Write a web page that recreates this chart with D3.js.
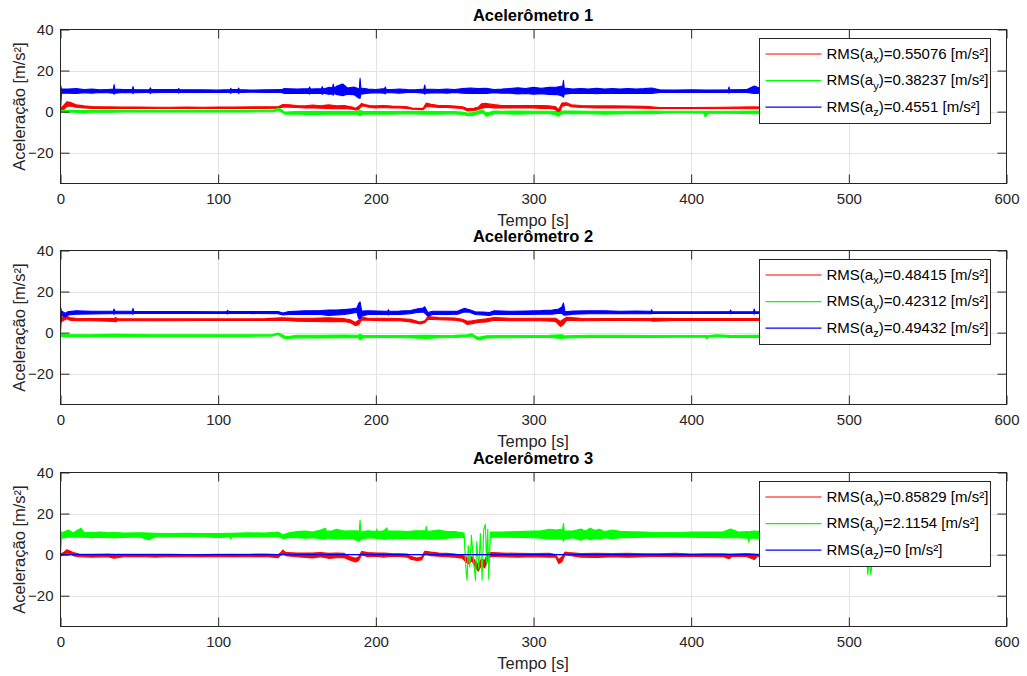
<!DOCTYPE html>
<html>
<head>
<meta charset="utf-8">
<script src="https://cdn.jsdelivr.net/npm/d3@7"></script>
<style>
  body { margin: 0; background: #fff; }
</style>
</head>
<body>
<div id="chart"></div>
<script>
// ---- axis ticks / labels ----
const tempoTicks = [0, 100, 200, 300, 400, 500, 600];
const acelTicks = [-20, 0, 20, 40];
const titulos = ["Acelerômetro 1", "Acelerômetro 2", "Acelerômetro 3"];
const eixos = ["x", "y", "z"];
const rmsValores = [
    ["0.55076", "0.38237", "0.4551"],
    ["0.48415", "0.42312", "0.49432"],
    ["0.85829", "2.1154", "0"]
];

// ---- series: [tempo (s), min, max] ----
const acel1X = [[0,0.8,1.5],[2,1,3],[4,2.5,4.8],[6,2.8,4.5],[8,2.5,4],[10,2,3.3],[15,1.8,2.8],[20,1.6,2.5],[30,1.5,2.3],[40,1.5,2.2],[50,1.6,2.2],[60,1.5,2.1],[70,1.5,2.1],[80,1.6,2.2],[90,1.5,2.1],[100,1.6,2.2],[110,1.5,2.2],[120,1.6,2.3],[130,1.6,2.4],[138,1.7,2.4],[141,2.2,3.5],[145,2.2,3.3],[150,2,3],[155,1.8,2.8],[160,1.8,3.2],[165,1.7,2.9],[170,1.6,3.3],[175,1.4,2.9],[180,1.5,3],[185,1.2,2.2],[187,0.8,1.6],[189,1,2.5],[191,2.8,4],[193,2.6,3.5],[196,2,3],[200,1.8,2.8],[205,2,3],[210,1.8,2.7],[215,1.8,2.6],[220,1.6,2.4],[223,1.2,1.8],[230,1,1.6],[232,2.5,4.2],[235,2.4,3.6],[240,2,3],[245,2,3],[250,1.8,2.7],[255,1.5,2.4],[258,0.3,1.5],[262,0.5,1.6],[265,1,2.2],[267,1.5,3.8],[270,2.2,4],[275,1.8,3.4],[280,1.8,3],[290,1.8,3],[300,1.8,3],[305,1.6,3],[310,1.6,2.8],[314,1,2.4],[316,-1.8,1],[318,2.5,4.2],[321,3.2,4.3],[324,2.4,3.3],[330,2,3],[340,1.8,2.8],[350,1.8,2.8],[360,1.8,2.7],[370,1.7,2.6],[375,1.5,2.3],[380,1.5,2],[400,1.5,2],[420,1.5,2.1],[440,1.4,2.3],[445,1.4,2.2],[470,1.5,2.1],[500,1.5,2.1],[515,1.5,2.1]];
const acel1Y = [[0,-0.2,0.6],[10,-0.3,0.6],[15,-0.6,0.5],[20,-0.2,0.5],[30,-0.3,0.6],[40,-0.2,0.5],[50,-0.1,0.5],[60,-0.2,0.5],[80,-0.1,0.5],[100,-0.1,0.5],[120,-0.1,0.5],[135,0,0.6],[138,0.5,1.6],[140,0,1.2],[142,-1.2,-0.2],[150,-1.2,0],[160,-1.4,0],[170,-1.3,0.1],[180,-1.3,0],[188,-1.2,0],[190,-2,0.5],[192,-1.2,0],[200,-1.1,0],[210,-1.2,0],[220,-1,0],[230,-1.2,0.2],[240,-1.2,0],[250,-1,0],[256,-1.5,-0.3],[258,-2,-0.8],[262,-1.8,-0.5],[265,-1,0.3],[268,-0.6,0.6],[270,-2.2,-0.6],[272,-1.8,-0.3],[275,-1,0.3],[280,-1,0.2],[290,-1.2,0.3],[300,-1,0.2],[310,-1,0.2],[314,-1.5,0],[316,-2.3,-0.5],[318,-1,0.3],[325,-1,0.3],[335,-1,0.2],[345,-1.2,0.2],[360,-1,0.2],[375,-1,0.3],[385,-0.7,0.2],[400,-0.7,0.2],[408,-0.8,0.2],[409,-2.6,0],[411,-0.8,0.2],[425,-0.8,0.2],[440,-1,0.3],[460,-0.7,0.2],[490,-0.7,0.2],[515,-0.7,0.2]];
const acel1Z = [[0,0.5,13],[0.6,9,11],[5,9,11],[10,8.8,11.2],[15,9.2,10.8],[20,9,11],[25,9.4,10.6],[30,9.2,10.8],[33.5,9,11],[34,8.5,13.2],[34.5,9,11],[40,9.3,10.7],[45.5,9.2,10.8],[46,8.8,12.2],[46.5,9.2,10.8],[55,9.4,10.6],[56.5,9.2,10.8],[57,8.8,11.6],[57.5,9.2,10.8],[65,9.3,10.7],[74.5,9.3,10.7],[75,9,11.3],[75.5,9.3,10.7],[90,9.4,10.6],[100,9.5,10.5],[107.5,9.3,10.7],[108,8.9,11.4],[108.5,9.3,10.7],[112.5,9.3,10.7],[113,8.8,11.5],[113.5,9.3,10.7],[120,9.5,10.5],[130,9.4,10.6],[140,9.3,10.7],[142,8.8,11.2],[150,9,11],[157.5,8.8,11.2],[158,8.5,12],[158.6,9,11],[165.5,8.8,11.2],[166,8.4,12.2],[166.6,9,11],[170,8.5,11.8],[172.5,8.6,11.6],[173,8,13.4],[173.6,8.8,11.5],[175,8.4,12.3],[179,7.8,13.5],[182,8.5,11.5],[186,8.3,12],[189.5,6.5,11],[190,6.5,16.2],[190.5,8.5,11.5],[195,9,11],[200,9.2,10.8],[205.5,9,11.2],[206,8.6,12],[206.6,9.2,10.8],[210,9.2,10.8],[215,9,11],[220,9.3,10.7],[225,9.4,10.6],[230.5,9,11],[231,8.5,13],[231.5,9,11],[240,9.2,10.8],[245,9,11],[250,9.3,10.7],[255,9,11.2],[260,8.8,11.5],[265,9,11.2],[270,8.8,11.4],[275,9.2,10.8],[280,9,11],[285,9,11.3],[290,8.6,11.6],[295,8.8,11.3],[300,8.5,11.8],[305,8.7,11.4],[310,8.4,11.8],[315,8.3,12],[318.5,7.5,12.5],[319,7,15.3],[319.5,8.5,11.5],[325,9,11],[330,8.8,11.3],[335,9,11],[340,8.7,11.4],[345,9,11],[350,8.8,11.2],[355,9,11],[360,8.8,11.3],[365,9,11],[370,8.8,11.2],[375,8.9,11.5],[380,9.4,10.6],[390,9.5,10.5],[400,9.4,10.6],[410,9.5,10.5],[423.5,9.4,10.6],[424,9,12],[424.5,9.4,10.6],[435,9.3,10.7],[440,8.8,12.5],[445,9,11],[455,9.2,10.8],[470,9.3,10.7],[485,9.2,10.8],[500,9.3,10.7],[515,9.3,10.7]];

const acel2X = [[0,5,6.5],[2,6,8],[4,6.8,8.2],[6,6,7.2],[10,5.8,7],[20,5.8,6.8],[34,5.5,6.8],[35,5.2,7.4],[36,5.8,6.8],[50,5.8,6.7],[70,5.8,6.7],[90,5.9,6.7],[110,5.9,6.7],[130,5.9,6.8],[140,6,7.2],[150,5.6,7],[160,5.4,7],[170,5.3,7.2],[180,5.4,6.8],[184,4.8,6.2],[187,3.4,5],[189,3.8,6],[191,6.2,7.6],[195,6,7],[205,5.8,7],[215,5.8,6.8],[222,5.2,6.5],[228,4.2,5.2],[231,4.8,5.8],[233,6.5,7.8],[240,6.3,7.3],[250,6,7.1],[255,5.4,6.5],[258,4,5.5],[261,4.4,5.8],[265,5,6.3],[270,5.2,6.7],[275,6,7.4],[285,5.8,7],[295,5.8,7],[305,5.8,7],[314,5.5,7],[317,3,5.5],[319,4,6.5],[321,6,7.5],[330,5.8,7],[345,5.9,6.9],[360,5.9,6.8],[374,5.8,6.8],[376,5.6,7],[390,5.9,6.8],[420,5.9,6.8],[440,5.9,6.8],[470,5.9,6.8],[515,5.9,6.8]];
const acel2Y = [[0,-1.8,-0.8],[5,-2,-1],[20,-1.8,-1],[34,-1.9,-0.8],[46,-1.9,-0.9],[60,-1.8,-1],[80,-1.8,-1],[100,-1.8,-1],[120,-1.8,-1],[134,-1.7,-1],[138,-0.8,-0.2],[141,-2.5,-1.2],[143,-3,-2],[150,-2.5,-1.3],[165,-2.6,-1.3],[180,-2.5,-1.2],[189,-2.5,-1.3],[190,-3.6,-0.8],[192,-2.5,-1.4],[205,-2.4,-1.4],[220,-2.5,-1.4],[232,-2.8,-1.3],[240,-2.5,-1.4],[250,-2.4,-1.3],[258,-2,-1],[261,-1.6,-0.6],[264,-3.2,-2],[266,-3.6,-2.2],[270,-2.6,-1.5],[280,-2.5,-1.4],[295,-2.4,-1.4],[310,-2.4,-1.3],[318,-2.8,-1],[320,-2.6,-1.6],[335,-2.4,-1.3],[350,-2.4,-1.3],[375,-2.3,-1.4],[390,-2.2,-1.4],[409,-2.2,-1.4],[410,-3,-1.5],[411,-2.2,-1.4],[416,-2,-1],[420,-2.1,-1.2],[425,-2.3,-1.4],[440,-2.3,-1.3],[470,-2.2,-1.4],[515,-2.2,-1.4]];
const acel2Z = [[0,0.3,12.5],[0.6,8.5,10.5],[3,7.8,9.5],[5,8.6,10.3],[10,9,10.6],[20,9.1,10.4],[30,9.2,10.4],[33.5,9.2,10.4],[34,9,11.5],[34.5,9.2,10.4],[45.5,9.2,10.4],[46,9,11.8],[46.5,9.3,10.3],[60,9.3,10.3],[80,9.3,10.3],[100,9.3,10.2],[105.5,9.3,10.3],[106,9.1,10.9],[106.5,9.3,10.3],[120,9.3,10.3],[138,9.2,10.3],[141,8.6,9.6],[145,8.8,10.3],[155,8.8,10.6],[165,8.8,10.8],[170,8.4,11],[175,8.6,11],[180,8.8,11.3],[185,9.5,11.6],[188,10,12],[189,7,14],[190,6.8,15],[191,8,10.5],[195,8.8,10.6],[207.5,8.9,10.4],[208,8.6,11.2],[208.5,8.9,10.4],[215,8.8,10.5],[222,9.2,10.8],[226,9.8,11.5],[230,10,12],[231,9.5,12.6],[233,8,9.8],[236,8.8,10.4],[245,8.8,10.4],[252,9,10.5],[256,10,11.8],[259,10,11.3],[263,8.8,10.2],[268,8.6,10],[272,8.4,9.8],[275,8.8,10.6],[285,8.8,10.4],[295,8.8,10.5],[305,9,10.7],[312,9,11],[316,9.5,11.5],[318,9.4,12.5],[319,8.6,14.4],[320,8.5,10.2],[325,9,10.5],[335,9.2,10.6],[345,9.2,10.6],[355,9.3,10.4],[365,9.2,10.5],[374.5,9.3,10.4],[375,9.2,11.2],[375.5,9.4,10.2],[390,9.4,10.2],[405,9.4,10.2],[424.5,9.4,10.3],[425,9.2,11],[425.5,9.4,10.2],[439.5,9.4,10.2],[440,9,11.5],[440.5,9.4,10.2],[470,9.4,10.2],[515,9.4,10.2]];

const acel3X = [[0,-0.8,0.3],[2,0,1],[4,0.8,2.4],[6,0.5,1.8],[8,-0.5,1],[12,-1,0.3],[20,-1.2,0.2],[30,-1,0.3],[34,-1.8,0.2],[40,-1,0.2],[50,-0.9,0.2],[60,-1.2,0.2],[70,-0.9,0.2],[80,-1,0.1],[90,-0.9,0.1],[100,-1,0.2],[110,-0.9,0.2],[120,-1,0.2],[130,-0.9,0.3],[138,-1.5,0],[140,0,1.2],[141,0.8,2.2],[143,-0.5,1],[150,-1,0.8],[160,-1.6,0.8],[165,-1,1],[170,-1.8,0.6],[175,-1.5,0.8],[180,-1.5,0.6],[183,-2.5,-0.8],[187,-3.6,-1.8],[189,-3,-1.2],[191,0,1.5],[195,-1,1],[200,-0.8,0.8],[205,-1.2,0.8],[210,-0.8,0.5],[215,-0.9,0.4],[220,-1.2,0.3],[222,-2.2,-0.8],[226,-2.8,-1.6],[229,-2.6,-1.2],[231,0.3,1.6],[235,-0.5,1.2],[240,-0.8,0.8],[245,-1,0.6],[250,-1.2,0.3],[255,-1.8,-0.3],[257,-3.5,-1],[259,-4.5,-2],[261,-3,-1],[263,-6,-3],[265,-8,-5],[267,-5,-2],[269,-6.5,-3],[271,-2.5,1],[273,-0.8,1],[280,-1,0.8],[290,-1.2,0.6],[300,-1,0.5],[310,-1.2,0.6],[314,-1.2,0],[316,-4.3,-2.5],[318,-3.5,-1],[320,0,1.2],[322,-0.3,1],[330,-1.2,0.5],[340,-1.4,0.6],[350,-1,0.5],[360,-1.3,0.6],[370,-1,0.4],[380,-0.8,0.4],[390,-1,0.6],[400,-0.8,0.3],[410,-1,0.4],[420,-0.9,0.4],[424,-2,0.3],[426,-0.8,0.3],[435,-0.9,0.5],[440,-2.4,0.3],[442,-0.8,0.2],[470,-0.8,0.2],[515,-0.8,0.2]];
const acel3Y = [[0,0,12],[0.6,8,10.5],[5,8.5,12],[8,8.6,10.6],[13,8.5,12.8],[15,8.5,10.8],[20,8.3,10.8],[25,8.5,11],[30,8.2,10.6],[35,8.3,10.8],[40,8.4,10.5],[50,8.6,10.6],[56,7.3,10.5],[60,8.6,10.4],[70,8.8,10.3],[80,8.8,10.4],[90,8.8,10.3],[100,8.2,10.3],[107.5,8.8,10.4],[108,7.5,10.4],[108.5,8.8,10.4],[120,8.8,10.6],[130,8.8,10.5],[138,9,11],[141,7.8,9.6],[145,8.4,10.6],[150,8.2,11.2],[155,8,11.5],[160,8.2,11],[165,7.8,12],[168,7.5,12.8],[168.6,8,11.5],[172,8,11.5],[175,7.6,12.3],[180,8,11.5],[185,7.8,11.6],[189.5,6.5,11.5],[190,7,16.7],[190.5,7.4,11],[195,8.2,11.6],[200,8,11.2],[200.5,7.5,12.5],[201,8,11.2],[205,7.5,11.6],[207,7.5,13],[207.6,7.8,11.5],[215,7.8,11.5],[220,8,11.2],[225,7.8,11.6],[231.5,7.8,11.6],[232,8,13.8],[232.5,7.5,11.2],[240,7.6,12],[245,8,11.2],[250,8.2,11.3],[256,8.5,10.5],[257.3,-9,-8.6],[257.9,-12.5,-12.1],[258.6,4,4.4],[259.6,-6,-5.6],[260.6,9,9.4],[262.1,-4,-3.6],[263.2,-12.5,-12.1],[264,6,6.4],[265.3,-7,-6.6],[266.3,10,10.4],[267.4,-12.5,-12.1],[268.4,12,12.4],[269.5,14.6,14.8],[270.2,-4,-3.6],[271,12,12.4],[271.6,-12,-11.6],[272.6,8,11],[274,8.5,11],[280,8.5,11],[290,8.4,11.2],[300,8.2,11.5],[305,8,11.6],[310,7.6,12.3],[315,7.6,12],[318.5,7.5,12.5],[319,6.5,15.3],[319.5,7.5,11.5],[325,8.2,11.5],[330,7,12.5],[333,8,11.5],[336,7.2,12.8],[339,8,11.8],[342,7.5,12.4],[345,8.2,11.2],[350,7.8,12],[355,8.2,11.4],[360,8.3,11.2],[370,8.5,11],[380,8.6,10.8],[390,8.6,10.8],[400,8.5,11],[410,8.4,11],[420,8.3,11],[425,8.2,12.5],[430,8.2,11],[436,8,11.2],[436.5,6.1,11],[437,8,11.2],[440,8,11.5],[445,7.8,11.2],[460,8.2,11],[480,8.2,11],[500,8.2,11],[510,8.2,11],[511,3,9],[512,-9.8,-9.4],[513,-3,-2.6],[514,-9.8,-9.4],[515,-2,-1.6]];
const acel3Z = [[0,0,0],[515,0,0]];

const series = [
    [acel1X, acel1Y, acel1Z],
    [acel2X, acel2Y, acel2Z],
    [acel3X, acel3Y, acel3Z]
];
const cores = ["#ff0000", "#00ff00", "#0000ff"];

const FONT = '"Liberation Sans", Arial, Helvetica, sans-serif';

class AcelChart {

    constructor(selector) {
        this.width = 1027;
        this.height = 676;
        this.plotTops = [29.5, 250.5, 472.5];
        this.plotH = 154;

        this.svg = d3.select(selector)
            .append("svg")
            .attr("width", this.width)
            .attr("height", this.height)
            .style("font-family", FONT);

        this.svg.append("rect")
            .attr("width", this.width)
            .attr("height", this.height)
            .attr("fill", "#fff");

        this.x = d3.scaleLinear().domain([0, 600]).range([60.5, 1006.5]);

        series.forEach((s, i) => this.drawPlot(i));
    }

    drawPlot(i) {
        const top = this.plotTops[i];
        const bottom = top + this.plotH;
        const x = this.x;
        const y = d3.scaleLinear().domain([-35, 40]).range([bottom, top]);
        const g = this.svg.append("g");

        // grid
        g.append("g").selectAll("line")
            .data(tempoTicks.slice(1, -1))
            .join("line")
            .attr("x1", d => Math.round(x(d)) + 0.5).attr("x2", d => Math.round(x(d)) + 0.5)
            .attr("y1", top).attr("y2", bottom)
            .attr("stroke", "#e3e3e3");
        g.append("g").selectAll("line")
            .data(acelTicks.slice(0, -1))
            .join("line")
            .attr("x1", x.range()[0]).attr("x2", x.range()[1])
            .attr("y1", d => Math.round(y(d)) + 0.5).attr("y2", d => Math.round(y(d)) + 0.5)
            .attr("stroke", "#e3e3e3");

        // data
        const clipId = "clip" + i;
        g.append("clipPath").attr("id", clipId)
            .append("rect")
            .attr("x", x.range()[0]).attr("y", top)
            .attr("width", x.range()[1] - x.range()[0]).attr("height", this.plotH);

        const area = d3.area()
            .x(d => x(d[0]))
            .y0(d => y(d[1]))
            .y1(d => y(d[2]));

        const dados = g.append("g").attr("clip-path", `url(#${clipId})`);
        series[i].forEach((s, k) => {
            dados.append("path")
                .datum(s)
                .attr("d", area)
                .attr("fill", cores[k])
                .attr("stroke", cores[k])
                .attr("stroke-width", 1.1)
                .attr("stroke-linejoin", "round");
        });

        // axes (ticks inward on all four sides)
        const styleAxis = sel => {
            sel.attr("font-size", 15).attr("font-family", FONT).attr("color", "#262626");
            sel.select(".domain").remove();
        };

        g.append("g")
            .attr("transform", `translate(0,${bottom})`)
            .call(d3.axisBottom(x).tickValues(tempoTicks).tickSizeInner(-9).tickSizeOuter(0).tickPadding(10).tickFormat(d3.format("d")))
            .call(styleAxis);
        g.append("g")
            .attr("transform", `translate(0,${top})`)
            .call(d3.axisTop(x).tickValues(tempoTicks).tickSizeInner(-9).tickSizeOuter(0).tickFormat(""))
            .call(styleAxis);
        g.append("g")
            .attr("transform", `translate(${x.range()[0]},0)`)
            .call(d3.axisLeft(y).tickValues(acelTicks).tickSizeInner(-9).tickSizeOuter(0).tickPadding(7).tickFormat(d3.format("d")))
            .call(styleAxis);
        g.append("g")
            .attr("transform", `translate(${x.range()[1]},0)`)
            .call(d3.axisRight(y).tickValues(acelTicks).tickSizeInner(-9).tickSizeOuter(0).tickFormat(""))
            .call(styleAxis);

        // box
        g.append("rect")
            .attr("x", x.range()[0]).attr("y", top)
            .attr("width", x.range()[1] - x.range()[0]).attr("height", this.plotH)
            .attr("fill", "none")
            .attr("stroke", "#262626");

        // title and labels
        g.append("text")
            .attr("x", 533).attr("y", top - 8.5)
            .attr("text-anchor", "middle")
            .attr("font-size", 16.5).attr("font-weight", "bold")
            .attr("fill", "#000")
            .text(titulos[i]);

        g.append("text")
            .attr("x", 533).attr("y", bottom + 42.5)
            .attr("text-anchor", "middle")
            .attr("font-size", 16.5)
            .attr("fill", "#262626")
            .text("Tempo [s]");

        g.append("text")
            .attr("transform", `translate(25,${(top + bottom) / 2}) rotate(-90)`)
            .attr("text-anchor", "middle")
            .attr("font-size", 16.5)
            .attr("fill", "#262626")
            .text("Aceleração [m/s²]");

        this.drawLegend(g, i, top);
    }

    drawLegend(g, i, top) {
        const lx = 759.5, ly = Math.round(top + 8) + 0.5;
        const leg = g.append("g");

        leg.append("rect")
            .attr("x", lx).attr("y", ly)
            .attr("width", 231).attr("height", 85)
            .attr("fill", "#fff")
            .attr("stroke", "#262626");

        const rows = leg.selectAll("g.row")
            .data(rmsValores[i])
            .join("g")
            .attr("class", "row")
            .attr("transform", (d, k) => `translate(${lx},${ly + 15.5 + k * 26.6})`);

        rows.append("line")
            .attr("x1", 6).attr("x2", 62)
            .attr("stroke", (d, k) => cores[k])
            .attr("stroke-width", 1.2);

        const t = rows.append("text")
            .attr("x", 67).attr("y", 4.5)
            .attr("font-size", 15)
            .attr("fill", "#000");
        t.append("tspan").text("RMS(a");
        t.append("tspan").attr("dy", 4.5).attr("font-size", 11).text((d, k) => eixos[k]);
        t.append("tspan").attr("dy", -4.5).text(d => `)=${d} [m/s²]`);
    }
}

new AcelChart("#chart");
</script>
</body>
</html>
